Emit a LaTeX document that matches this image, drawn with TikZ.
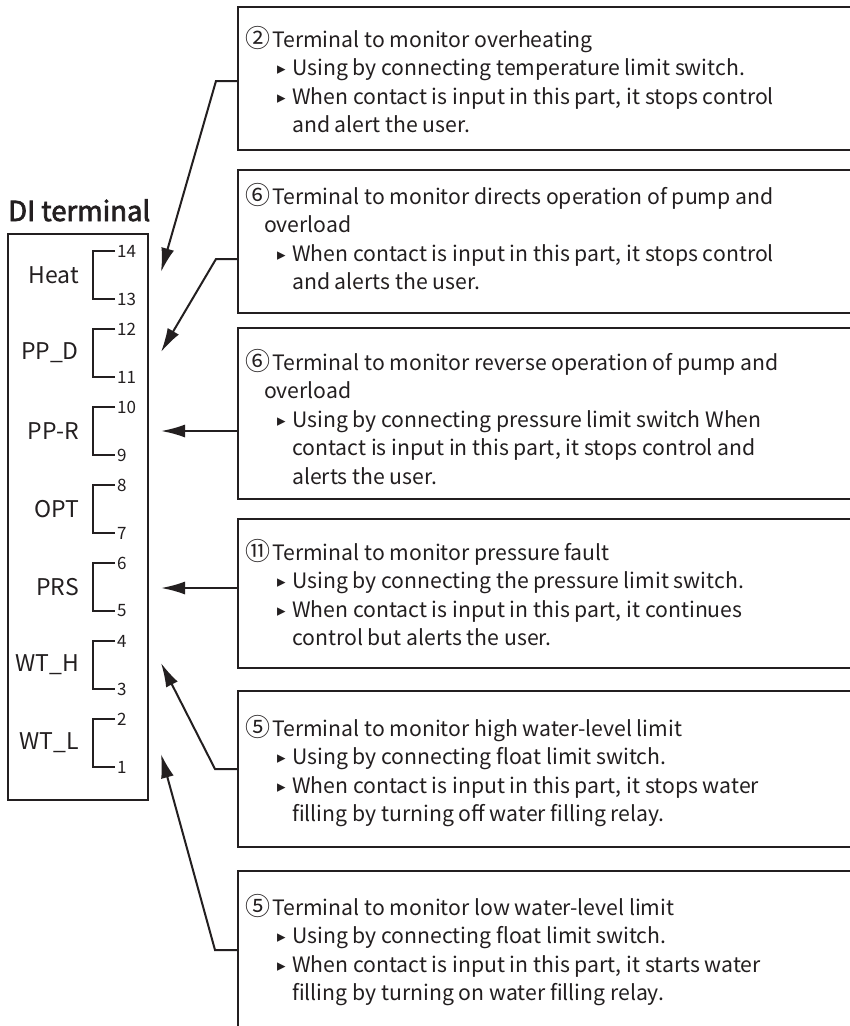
\documentclass[tikz,border=0pt]{standalone}
\usepackage{fontspec}
\setmainfont{Noto Sans CJK KR}
\newfontfamily\symfont{DejaVu Sans}
\newfontfamily\titlefont[FakeBold=2.5]{Noto Sans CJK KR}
\usetikzlibrary{arrows.meta,calc}
\definecolor{ink}{RGB}{35,31,32}

% circled number, bullet line, continuation line and wrapped heading line
\newcommand{\circnum}[1]{{\fontsize{25}{28}\selectfont #1}\hspace{2pt}}
\newcommand{\bullitem}[1]{\hspace*{32pt}\makebox[15pt][l]{\raisebox{1pt}{\symfont\fontsize{17}{17}\selectfont ▸}}#1}
\newcommand{\contline}[1]{\hspace*{47pt}#1}
\newcommand{\wrapline}[1]{\hspace*{19pt}#1}

\tikzset{
  frame/.style={draw=ink, line width=2pt},
  notebox/.style={frame, anchor=north west, inner sep=0pt, minimum width=640pt},
  notetext/.style={anchor=base west, inner sep=0pt, text=ink,
    font=\fontsize{21.2}{28.5}\selectfont},
  termlabel/.style={anchor=east, inner sep=0pt, text=ink, font=\fontsize{23}{26}\selectfont},
  pinnum/.style={anchor=west, inner sep=0pt, text=ink, font=\fontsize{17}{18}\selectfont},
  bracket/.style={draw=ink, line width=2pt},
  link/.style={draw=ink, line width=2pt, line join=miter,
    -{Latex[length=24pt,width=13pt]}},
}

\begin{document}
\begin{tikzpicture}[x=1pt,y=-1pt]
\useasboundingbox (0,0) rectangle (850,1026);
\fill[white] (0,0) rectangle (850,1026);
\clip (0,0) rectangle (850,1026);

% ---- DI terminal block ----
\node[anchor=base west, inner sep=0pt, text=ink, font=\titlefont\fontsize{27.5}{30}\selectfont]
  (title) at (8,221) {DI terminal};
\node[frame, anchor=north west, inner sep=0pt, minimum width=140pt, minimum height=566pt]
  (term) at (7,233) {};

\foreach \name/\lab/\hi/\lo [count=\i from 0] in
  {heat/Heat/14/13, ppd/PP\_D/12/11, ppr/PP-R/10/9, opt/OPT/8/7,
   prs/PRS/6/5, wth/WT\_H/4/3, wtl/WT\_L/2/1}{
  \pgfmathsetmacro{\yt}{251+78*\i}
  \draw[bracket] (115,\yt) -- (93,\yt) -- (93,\yt+48) -- (115,\yt+48);
  \node[termlabel] (\name) at (79,\yt+24) {\lab};
  \node[pinnum] (\name-hi) at (117,\yt) {\hi};
  \node[pinnum] (\name-lo) at (117,\yt+48) {\lo};
}

% ---- description notes ----
\node[notebox, minimum height=143pt] (n1) at (237,6) {};
\node[notetext] (n1t) at (245,47) {\begin{tabular}[t]{@{}l@{}}
\circnum{②}Terminal to monitor overheating\\
\bullitem{Using by connecting temperature limit switch.}\\
\bullitem{When contact is input in this part, it stops control}\\
\contline{and alert the user.}
\end{tabular}};

\node[notebox, minimum height=143pt] (n2) at (237,169) {};
\node[notetext] (n2t) at (245,204) {\begin{tabular}[t]{@{}l@{}}
\circnum{⑥}Terminal to monitor directs operation of pump and\\
\wrapline{overload}\\
\bullitem{When contact is input in this part, it stops control}\\
\contline{and alerts the user.}
\end{tabular}};

\node[notebox, minimum height=171pt] (n3) at (237,327) {};
\node[notetext] (n3t) at (245,370) {\begin{tabular}[t]{@{}l@{}}
\circnum{⑥}Terminal to monitor reverse operation of pump and\\
\wrapline{overload}\\
\bullitem{Using by connecting pressure limit switch When}\\
\contline{contact is input in this part, it stops control and}\\
\contline{alerts the user.}
\end{tabular}};

\node[notebox, minimum height=149pt] (n4) at (237,518) {};
\node[notetext] (n4t) at (245,560) {\begin{tabular}[t]{@{}l@{}}
\circnum{⑪}Terminal to monitor pressure fault\\
\bullitem{Using by connecting the pressure limit switch.}\\
\bullitem{When contact is input in this part, it continues}\\
\contline{control but alerts the user.}
\end{tabular}};

\node[notebox, minimum height=156pt] (n5) at (237,690) {};
\node[notetext] (n5t) at (245,736) {\begin{tabular}[t]{@{}l@{}}
\circnum{⑤}Terminal to monitor high water-level limit\\
\bullitem{Using by connecting float limit switch.}\\
\bullitem{When contact is input in this part, it stops water}\\
\contline{filling by turning off water filling relay.}
\end{tabular}};

\node[notebox, minimum height=190pt] (n6) at (237,870) {};
\node[notetext] (n6t) at (245,915) {\begin{tabular}[t]{@{}l@{}}
\circnum{⑤}Terminal to monitor low water-level limit\\
\bullitem{Using by connecting float limit switch.}\\
\bullitem{When contact is input in this part, it starts water}\\
\contline{filling by turning on water filling relay.}
\end{tabular}};

% ---- arrow targets beside the terminal block ----
\coordinate (t1) at (161,272);
\coordinate (t2) at (161,352);
\coordinate (t3) at (161,431);
\coordinate (t4) at (161,588);
\coordinate (t5) at (161,663);
\coordinate (t6) at (161,754);

% ---- connectors ----
\draw[link] ($(n1.north west)+(0,75)$) -- ++(-21,0) -- (t1);
\draw[link] ($(n2.north west)+(0,90)$) -- ++(-21,0) -- (t2);
\draw[link] ($(n3.north west)+(0,104)$) -- (t3);
\draw[link] ($(n4.north west)+(0,70)$) -- (t4);
\draw[link] ($(n5.north west)+(0,79)$) -- ++(-22,0) -- (t5);
\draw[link] ($(n6.north west)+(0,80)$) -- ++(-22,0) -- (t6);
\end{tikzpicture}
\end{document}
